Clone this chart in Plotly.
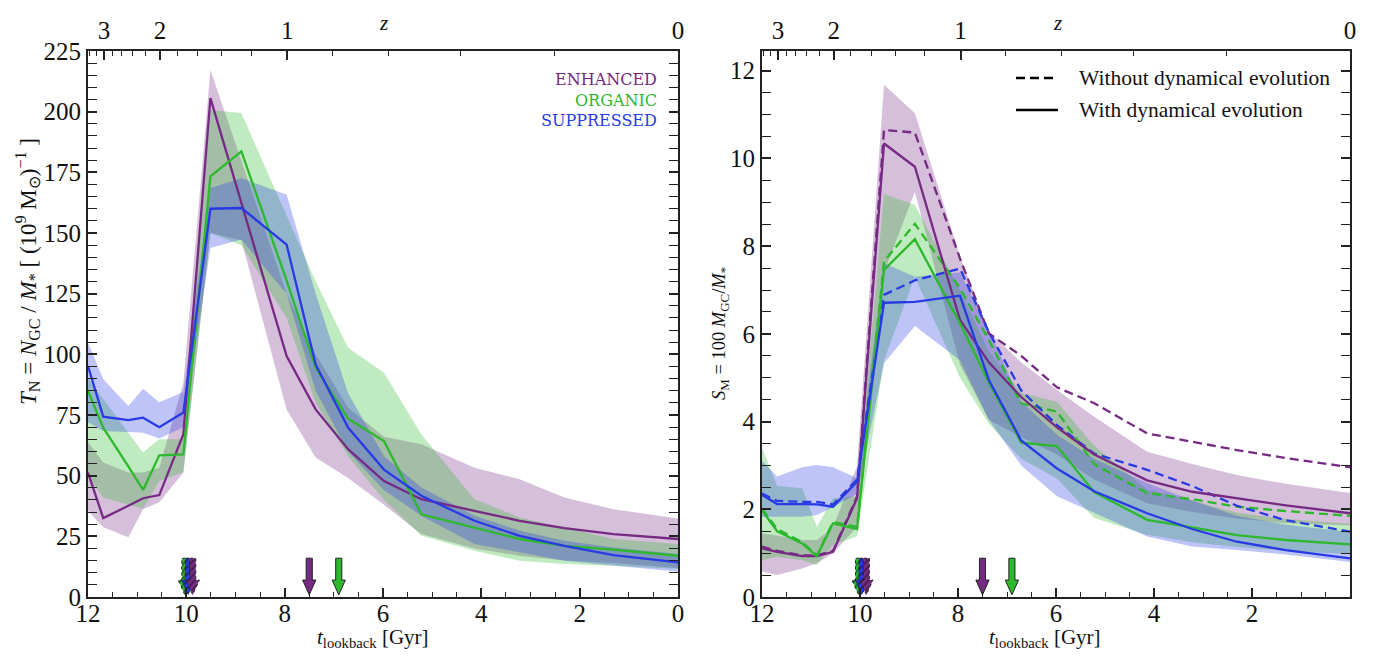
import numpy as np
import plotly.graph_objects as go

# ---------------- data ----------------
t_snap = [12.0, 11.69, 11.18, 10.88, 10.55, 10.06, 9.51, 8.88, 7.96, 7.37,
          6.71, 5.98, 5.22, 4.14, 3.22, 2.31, 1.31, 0.0]

# Left panel: T_N
tn_enh = [51.3, 32.5, 37.6, 40.7, 42.0, 67.1, 205.6, 162.0, 99.3, 77.3,
          60.9, 47.8, 40.3, 35.5, 31.4, 28.4, 25.9, 23.9]
tn_enh_lo = [35.5, 28.7, 24.6, 36.2, 39.0, 51.3, 150.0, 147.0, 77.3, 57.5,
             49.0, 38.0, 26.0, 20.0, 17.0, 15.0, 14.0, 12.0]
tn_enh_hi = [63.8, 55.4, 51.3, 51.3, 53.3, 88.3, 217.2, 180.0, 125.0, 100.0,
             78.0, 66.0, 62.9, 53.3, 48.5, 41.0, 36.2, 32.4]

tn_org = [84.9, 69.8, 53.8, 44.1, 58.4, 58.8, 173.3, 183.6, 130.4, 94.5,
          73.5, 64.3, 34.1, 28.7, 23.9, 21.1, 19.5, 17.0]
tn_org_lo = [50.0, 41.0, 38.0, 36.5, 47.8, 51.5, 150.0, 145.0, 115.0, 80.0,
             58.0, 40.0, 25.2, 19.1, 14.9, 13.6, 12.9, 11.5]
tn_org_hi = [90.0, 81.4, 67.7, 59.5, 65.0, 65.0, 200.7, 199.4, 157.0, 130.1,
             102.7, 92.4, 67.0, 40.3, 32.8, 28.7, 23.9, 21.8]

tn_sup = [95.2, 74.3, 72.9, 73.9, 70.0, 76.0, 160.0, 160.3, 145.2, 95.8,
          69.8, 52.5, 41.7, 31.4, 25.2, 21.1, 17.3, 14.3]
tn_sup_lo = [72.0, 68.4, 68.0, 67.7, 65.3, 70.0, 143.8, 147.3, 125.0, 85.0,
             60.0, 44.0, 33.5, 21.8, 18.4, 14.9, 12.9, 10.4]
tn_sup_hi = [104.9, 89.7, 78.7, 85.8, 80.3, 84.5, 168.5, 172.6, 165.8, 125.0,
             84.0, 58.0, 45.1, 33.5, 27.3, 23.2, 20.4, 17.7]

# Right panel: S_M
sm_enh_dyn = [1.11, 1.03, 0.93, 0.93, 1.03, 2.25, 10.34, 9.81, 6.32, 5.35,
              4.56, 3.87, 3.25, 2.66, 2.40, 2.25, 2.09, 1.91]
sm_enh_nodyn = [1.15, 1.05, 0.95, 0.95, 1.05, 2.29, 10.65, 10.59, 7.72, 6.01,
                5.50, 4.78, 4.42, 3.73, 3.54, 3.35, 3.17, 2.96]
sm_enh_lo = [0.58, 0.50, 0.65, 0.77, 1.00, 1.60, 7.40, 9.24, 5.30, 4.04,
             3.65, 3.25, 2.68, 2.14, 1.94, 1.79, 1.68, 1.63]
sm_enh_hi = [1.45, 1.40, 1.30, 1.30, 1.59, 2.98, 11.68, 11.03, 7.77, 6.04,
             5.35, 4.72, 4.11, 3.31, 3.03, 2.78, 2.58, 2.37]

sm_org_dyn = [1.98, 1.50, 1.22, 0.93, 1.68, 1.55, 7.46, 8.16, 6.24, 4.89,
              3.52, 3.44, 2.39, 1.76, 1.59, 1.41, 1.30, 1.20]
sm_org_nodyn = [2.01, 1.55, 1.25, 0.95, 1.71, 1.60, 7.65, 8.51, 7.04, 5.86,
                4.41, 4.23, 3.03, 2.37, 2.23, 2.06, 1.96, 1.85]
sm_org_lo = [0.84, 0.92, 0.84, 0.73, 1.19, 1.38, 5.40, 7.30, 5.00, 3.95,
             3.15, 2.70, 1.80, 1.42, 1.25, 1.14, 1.05, 0.98]
sm_org_hi = [3.40, 2.53, 2.48, 1.60, 2.25, 2.30, 9.19, 8.94, 7.00, 5.60,
             4.65, 4.45, 3.45, 2.45, 2.20, 1.92, 1.78, 1.67]

sm_sup_dyn = [2.33, 2.12, 2.12, 2.11, 2.06, 2.63, 6.71, 6.73, 6.87, 4.95,
              3.57, 2.93, 2.41, 1.91, 1.55, 1.26, 1.07, 0.88]
sm_sup_nodyn = [2.36, 2.19, 2.17, 2.17, 2.11, 2.68, 6.89, 7.22, 7.49, 6.04,
                4.71, 3.92, 3.27, 2.90, 2.53, 2.08, 1.75, 1.49]
sm_sup_lo = [1.83, 1.83, 1.83, 1.87, 2.05, 2.35, 5.33, 6.18, 5.40, 4.04,
             3.00, 2.30, 1.91, 1.38, 1.15, 1.07, 0.97, 0.80]
sm_sup_hi = [3.10, 2.75, 2.96, 3.01, 2.96, 2.71, 7.61, 7.30, 7.40, 6.10,
             4.45, 3.70, 3.15, 2.60, 2.20, 1.85, 1.65, 1.48]

# arrows (lookback time of events)
arrow_hatched_t = [10.03, 9.96, 9.87]
arrow_hatched_model = ["ORGANIC", "SUPPRESSED", "ENHANCED"]
arrow_solid_t = [7.50, 6.90]
arrow_solid_model = ["ENHANCED", "ORGANIC"]

# redshift ticks on top axis
z_major = [3, 2, 1, 0]
z_minor = [0.2, 0.4, 0.6, 0.8, 1.2, 1.4, 1.6, 1.8, 2.2, 2.4, 2.6, 2.8, 3.2, 3.4]

# legend labels (right panel)
legend_labels = ["Without dynamical evolution", "With dynamical evolution"]
legend_dashes = ["dash", "solid"]

# ---------------- styles ----------------
COL = {"ENHANCED": (118, 42, 131), "ORGANIC": (45, 184, 45), "SUPPRESSED": (40, 58, 228)}
FONT = "Liberation Serif"
FRAME = "#222222"
W, H = 1381, 661
OFF = 8  # page body margin


def fx(px):
    return (px - OFF) / W


def fy(py):
    return 1 - (py - OFF) / H


def rgb(c):
    return "rgb(%d,%d,%d)" % c


def rgba(c, a):
    return "rgba(%d,%d,%d,%.2f)" % (c + (a,))


def lookback(z, H0=67.7, Om=0.307):
    tH = 977.8 / H0
    if z == 0:
        return 0.0
    zz = np.linspace(0, z, 4001)
    f = 1.0 / ((1 + zz) * np.sqrt(Om * (1 + zz) ** 3 + 1 - Om))
    return float(tH * np.trapezoid(f, zz))


zt_major = [lookback(z) for z in z_major]
zt_minor = [lookback(z) for z in z_minor]

fig = go.Figure()


def band(xa, ya, lo, hi, model):
    fig.add_trace(go.Scatter(
        x=t_snap + t_snap[::-1], y=list(hi) + list(lo)[::-1],
        fill="toself", fillcolor=rgba(COL[model], 0.30),
        line=dict(width=0), mode="lines", hoverinfo="skip",
        showlegend=False, xaxis=xa, yaxis=ya))


def line(xa, ya, y, model, dash="solid"):
    fig.add_trace(go.Scatter(
        x=t_snap, y=y, mode="lines",
        line=dict(color=rgb(COL[model]), width=2.3, dash=dash),
        showlegend=False, xaxis=xa, yaxis=ya))


def arrow(xa, ya, t, model, ymax, hatched):
    hs, hh = 0.062, 0.135
    ft, fh, fp = 0.071, 0.031, 0.004
    xs = [t - hs, t - hs, t - hh, t, t + hh, t + hs, t + hs, t - hs]
    ys = [ft, fh, fh, fp, fh, fh, ft, ft]
    ys = [v * ymax for v in ys]
    c = rgb(COL[model])
    kw = dict(x=xs, y=ys, fill="toself", fillcolor=c, mode="lines",
              hoverinfo="skip", showlegend=False, xaxis=xa, yaxis=ya)
    if hatched:
        kw["fillpattern"] = dict(shape="/", fgcolor="#111111", bgcolor=c,
                                 size=5, solidity=0.35)
        kw["line"] = dict(color="#222222", width=1, dash="dot")
    else:
        kw["line"] = dict(color="#222222", width=1)
    fig.add_trace(go.Scatter(**kw))


# Left panel
for lo, hi, m in [(tn_enh_lo, tn_enh_hi, "ENHANCED"), (tn_org_lo, tn_org_hi, "ORGANIC"),
                  (tn_sup_lo, tn_sup_hi, "SUPPRESSED")]:
    band("x", "y", lo, hi, m)
for y, m in [(tn_enh, "ENHANCED"), (tn_org, "ORGANIC"), (tn_sup, "SUPPRESSED")]:
    line("x", "y", y, m)

# Right panel
for lo, hi, m in [(sm_enh_lo, sm_enh_hi, "ENHANCED"), (sm_org_lo, sm_org_hi, "ORGANIC"),
                  (sm_sup_lo, sm_sup_hi, "SUPPRESSED")]:
    band("x2", "y2", lo, hi, m)
for y, m in [(sm_enh_nodyn, "ENHANCED"), (sm_org_nodyn, "ORGANIC"), (sm_sup_nodyn, "SUPPRESSED")]:
    line("x2", "y2", y, m, dash="9px,5px")
for y, m in [(sm_enh_dyn, "ENHANCED"), (sm_org_dyn, "ORGANIC"), (sm_sup_dyn, "SUPPRESSED")]:
    line("x2", "y2", y, m)

YMAX_L, YMAX_R = 225.0, 12.45
for xa, ya, ymax in [("x", "y", YMAX_L), ("x2", "y2", YMAX_R)]:
    for t, m in zip(arrow_hatched_t, arrow_hatched_model):
        arrow(xa, ya, t, m, ymax, True)
    for t, m in zip(arrow_solid_t, arrow_solid_model):
        arrow(xa, ya, t, m, ymax, False)

# dummy traces for the top (redshift) axes
fig.add_trace(go.Scatter(x=[6], y=[0], mode="markers", marker=dict(opacity=0),
                         showlegend=False, hoverinfo="skip", xaxis="x3", yaxis="y"))
fig.add_trace(go.Scatter(x=[6], y=[0], mode="markers", marker=dict(opacity=0),
                         showlegend=False, hoverinfo="skip", xaxis="x4", yaxis="y2"))

L_DOM = [fx(88), fx(678)]
R_DOM = [fx(762), fx(1350)]
Y_DOM = [fy(597), fy(51)]

tickfont = dict(family=FONT, size=25, color="#111111")
common_x = dict(range=[12, 0], ticks="inside", ticklen=9, tickwidth=1.6, tickcolor=FRAME,
                showline=True, linewidth=2.2, linecolor=FRAME, showgrid=False, zeroline=False,
                tickfont=tickfont, automargin=False, ticklabelstandoff=-7,
                minor=dict(dtick=0.5, tick0=0, ticks="inside", ticklen=5, tickwidth=1.3,
                           tickcolor=FRAME, showgrid=False))
common_top = dict(range=[12, 0], side="top", ticks="inside", ticklen=9, tickwidth=1.6,
                  tickcolor=FRAME, showline=True, linewidth=2.2, linecolor=FRAME,
                  showgrid=False, zeroline=False, tickfont=tickfont, automargin=False,
                  tickmode="array", tickvals=zt_major, ticktext=[str(z) for z in z_major],
                  minor=dict(tickmode="array", tickvals=zt_minor, ticks="inside", ticklen=5,
                             tickwidth=1.3, tickcolor=FRAME, showgrid=False))
common_y = dict(ticks="inside", ticklen=9, tickwidth=1.6, tickcolor=FRAME, showline=True,
                linewidth=2.2, linecolor=FRAME, mirror="allticks", showgrid=False,
                zeroline=False, tickfont=tickfont, automargin=False)

fig.update_layout(
    width=W, height=H, autosize=False,
    margin=dict(l=0, r=0, t=0, b=0, pad=0, autoexpand=False),
    paper_bgcolor="white", plot_bgcolor="white",
    font=dict(family=FONT, color="#111111"),
    xaxis=dict(domain=L_DOM, anchor="y", tickmode="array",
               tickvals=[12, 10, 8, 6, 4, 2, 0], **common_x),
    xaxis2=dict(domain=R_DOM, anchor="y2", tickmode="array",
                tickvals=[12, 10, 8, 6, 4, 2], **common_x),
    xaxis3=dict(domain=L_DOM, anchor="y", overlaying="x", **common_top),
    xaxis4=dict(domain=R_DOM, anchor="y2", overlaying="x2", **common_top),
    yaxis=dict(domain=Y_DOM, anchor="x", range=[0, YMAX_L], tickmode="array",
               tickvals=list(range(0, 226, 25)),
               minor=dict(dtick=5, tick0=0, ticks="inside", ticklen=5, tickwidth=1.3,
                          tickcolor=FRAME, showgrid=False),
               **common_y),
    yaxis2=dict(domain=Y_DOM, anchor="x2", range=[0, YMAX_R], tickmode="array",
                tickvals=[0, 2, 4, 6, 8, 10, 12],
                minor=dict(dtick=0.5, tick0=0, ticks="inside", ticklen=5, tickwidth=1.3,
                           tickcolor=FRAME, showgrid=False),
                **common_y),
    showlegend=False,
)

ann = []
shapes = []
# legend of the right panel (line samples + labels)
for i, (lab, dsh) in enumerate(zip(legend_labels, legend_dashes)):
    yy = 78 + 32 * i
    shapes.append(dict(type="line", xref="paper", yref="paper",
                       x0=fx(1016), x1=fx(1058), y0=fy(yy), y1=fy(yy),
                       line=dict(color="black", width=2.3,
                                 dash="9px,5px" if dsh == "dash" else "solid")))
    ann.append(dict(text=lab, x=fx(1077), y=fy(yy), xref="paper", yref="paper",
                    xanchor="left", yanchor="middle", showarrow=False,
                    font=dict(family=FONT, size=21.5, color="#111111")))
# model labels (left panel)
for m, yy in [("ENHANCED", 80), ("ORGANIC", 100), ("SUPPRESSED", 120)]:
    ann.append(dict(text=m, x=fx(659), y=fy(yy), xref="paper", yref="paper",
                    xanchor="right", yanchor="middle", showarrow=False,
                    font=dict(family="DejaVu Serif", size=16, color=rgb(COL[m]))))
# top z labels
for xc in [383, 1057]:
    ann.append(dict(text="<i>z</i>", x=fx(xc), y=fy(9), xref="paper", yref="paper",
                    showarrow=False, xanchor="center", yanchor="top",
                    font=dict(family=FONT, size=21)))
# bottom x titles
for xc in [373, 1045]:
    ann.append(dict(text="<i>t</i><sub>lookback</sub> [Gyr]", x=fx(xc), y=fy(638),
                    xref="paper", yref="paper", showarrow=False, xanchor="center",
                    yanchor="middle", font=dict(family=FONT, size=21)))
# y titles
ann.append(dict(text="<i>T</i><sub>N</sub> = <i>N</i><sub>GC</sub> / <i>M</i><sub>*</sub>"
                     " [ (10<sup>9</sup> M<sub>⊙</sub>)<sup>−1</sup> ]",
                x=fx(27), y=fy(272), xref="paper", yref="paper", showarrow=False,
                textangle=-90, xanchor="center", yanchor="middle",
                font=dict(family=FONT, size=23)))
ann.append(dict(text="<i>S</i><sub>M</sub> = 100 <i>M</i><sub>GC</sub>/<i>M</i><sub>*</sub>",
                x=fx(721), y=fy(334), xref="paper", yref="paper", showarrow=False,
                textangle=-90, xanchor="center", yanchor="middle",
                font=dict(family=FONT, size=18.5)))
fig.update_layout(annotations=ann, shapes=shapes)

fig.write_html("out.html")
